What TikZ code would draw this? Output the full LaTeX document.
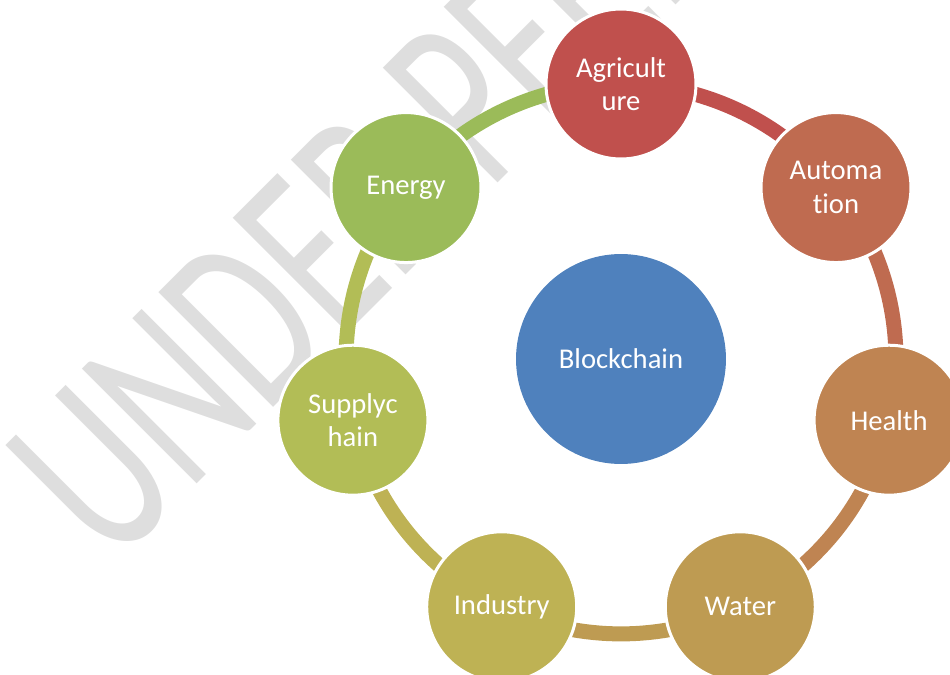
\documentclass[tikz,border=0pt]{standalone}
\usepackage{fontspec}
\setmainfont{Carlito}[Ligatures=NoCommon]
\usepackage{tikz}
\usetikzlibrary{backgrounds}
\definecolor{cagri}{HTML}{C0504D}
\definecolor{cauto}{HTML}{BF6B50}
\definecolor{cheal}{HTML}{BF8452}
\definecolor{cwate}{HTML}{BE9B52}
\definecolor{cindu}{HTML}{BEB254}
\definecolor{csupp}{HTML}{B2BD56}
\definecolor{cener}{HTML}{9BBB59}
\definecolor{cblock}{HTML}{4F81BD}
\definecolor{cmark}{HTML}{DEDEDE}
\begin{document}
\begin{tikzpicture}[line cap=round,line join=round,x=0.02cm,y=0.02cm,
  ball/.style={circle,draw=white,line width=0.06cm,minimum size=3cm,inner sep=0pt,
    text=white,align=center,font=\fontsize{16.3}{19}\selectfont},
  link/.style={line width=0.3cm,line cap=butt,bend left=25.71,looseness=0.896}]
\clip(-621,-315) rectangle (329,359);
\node[ball,fill=cblock,draw=none,minimum size=4.2cm] (block) at (0,0) {Blockchain};
\node[ball,fill=cagri] (agri) at (90:275) {Agricult\\ure};
\node[ball,fill=cauto] (auto) at (38.57:275) {Automa\\tion};
\node[ball,fill=cheal] (heal) at (-12.86:275) {Health};
\node[ball,fill=cwate] (wate) at (-64.29:275) {Water};
\node[ball,fill=cindu] (indu) at (-115.71:275) {Industry};
\node[ball,fill=csupp] (supp) at (-167.14:275) {Supplyc\\hain};
\node[ball,fill=cener] (ener) at (141.43:275) {Energy};
\begin{scope}[on background layer]
\node[rotate=45,yscale=1.5,anchor=base west,inner sep=0pt,text=cmark,
  font=\fontsize{96}{96}\selectfont] (mark) at (-509,-210) {UNDER PEER REVIEW};
\draw[link,cagri] (agri.center) to (auto.center);
\draw[link,cauto] (auto.center) to (heal.center);
\draw[link,cheal] (heal.center) to (wate.center);
\draw[link,cwate] (wate.center) to (indu.center);
\draw[link,cindu] (indu.center) to (supp.center);
\draw[link,csupp] (supp.center) to (ener.center);
\draw[link,cener] (ener.center) to (agri.center);
\end{scope}
\end{tikzpicture}
\end{document}
